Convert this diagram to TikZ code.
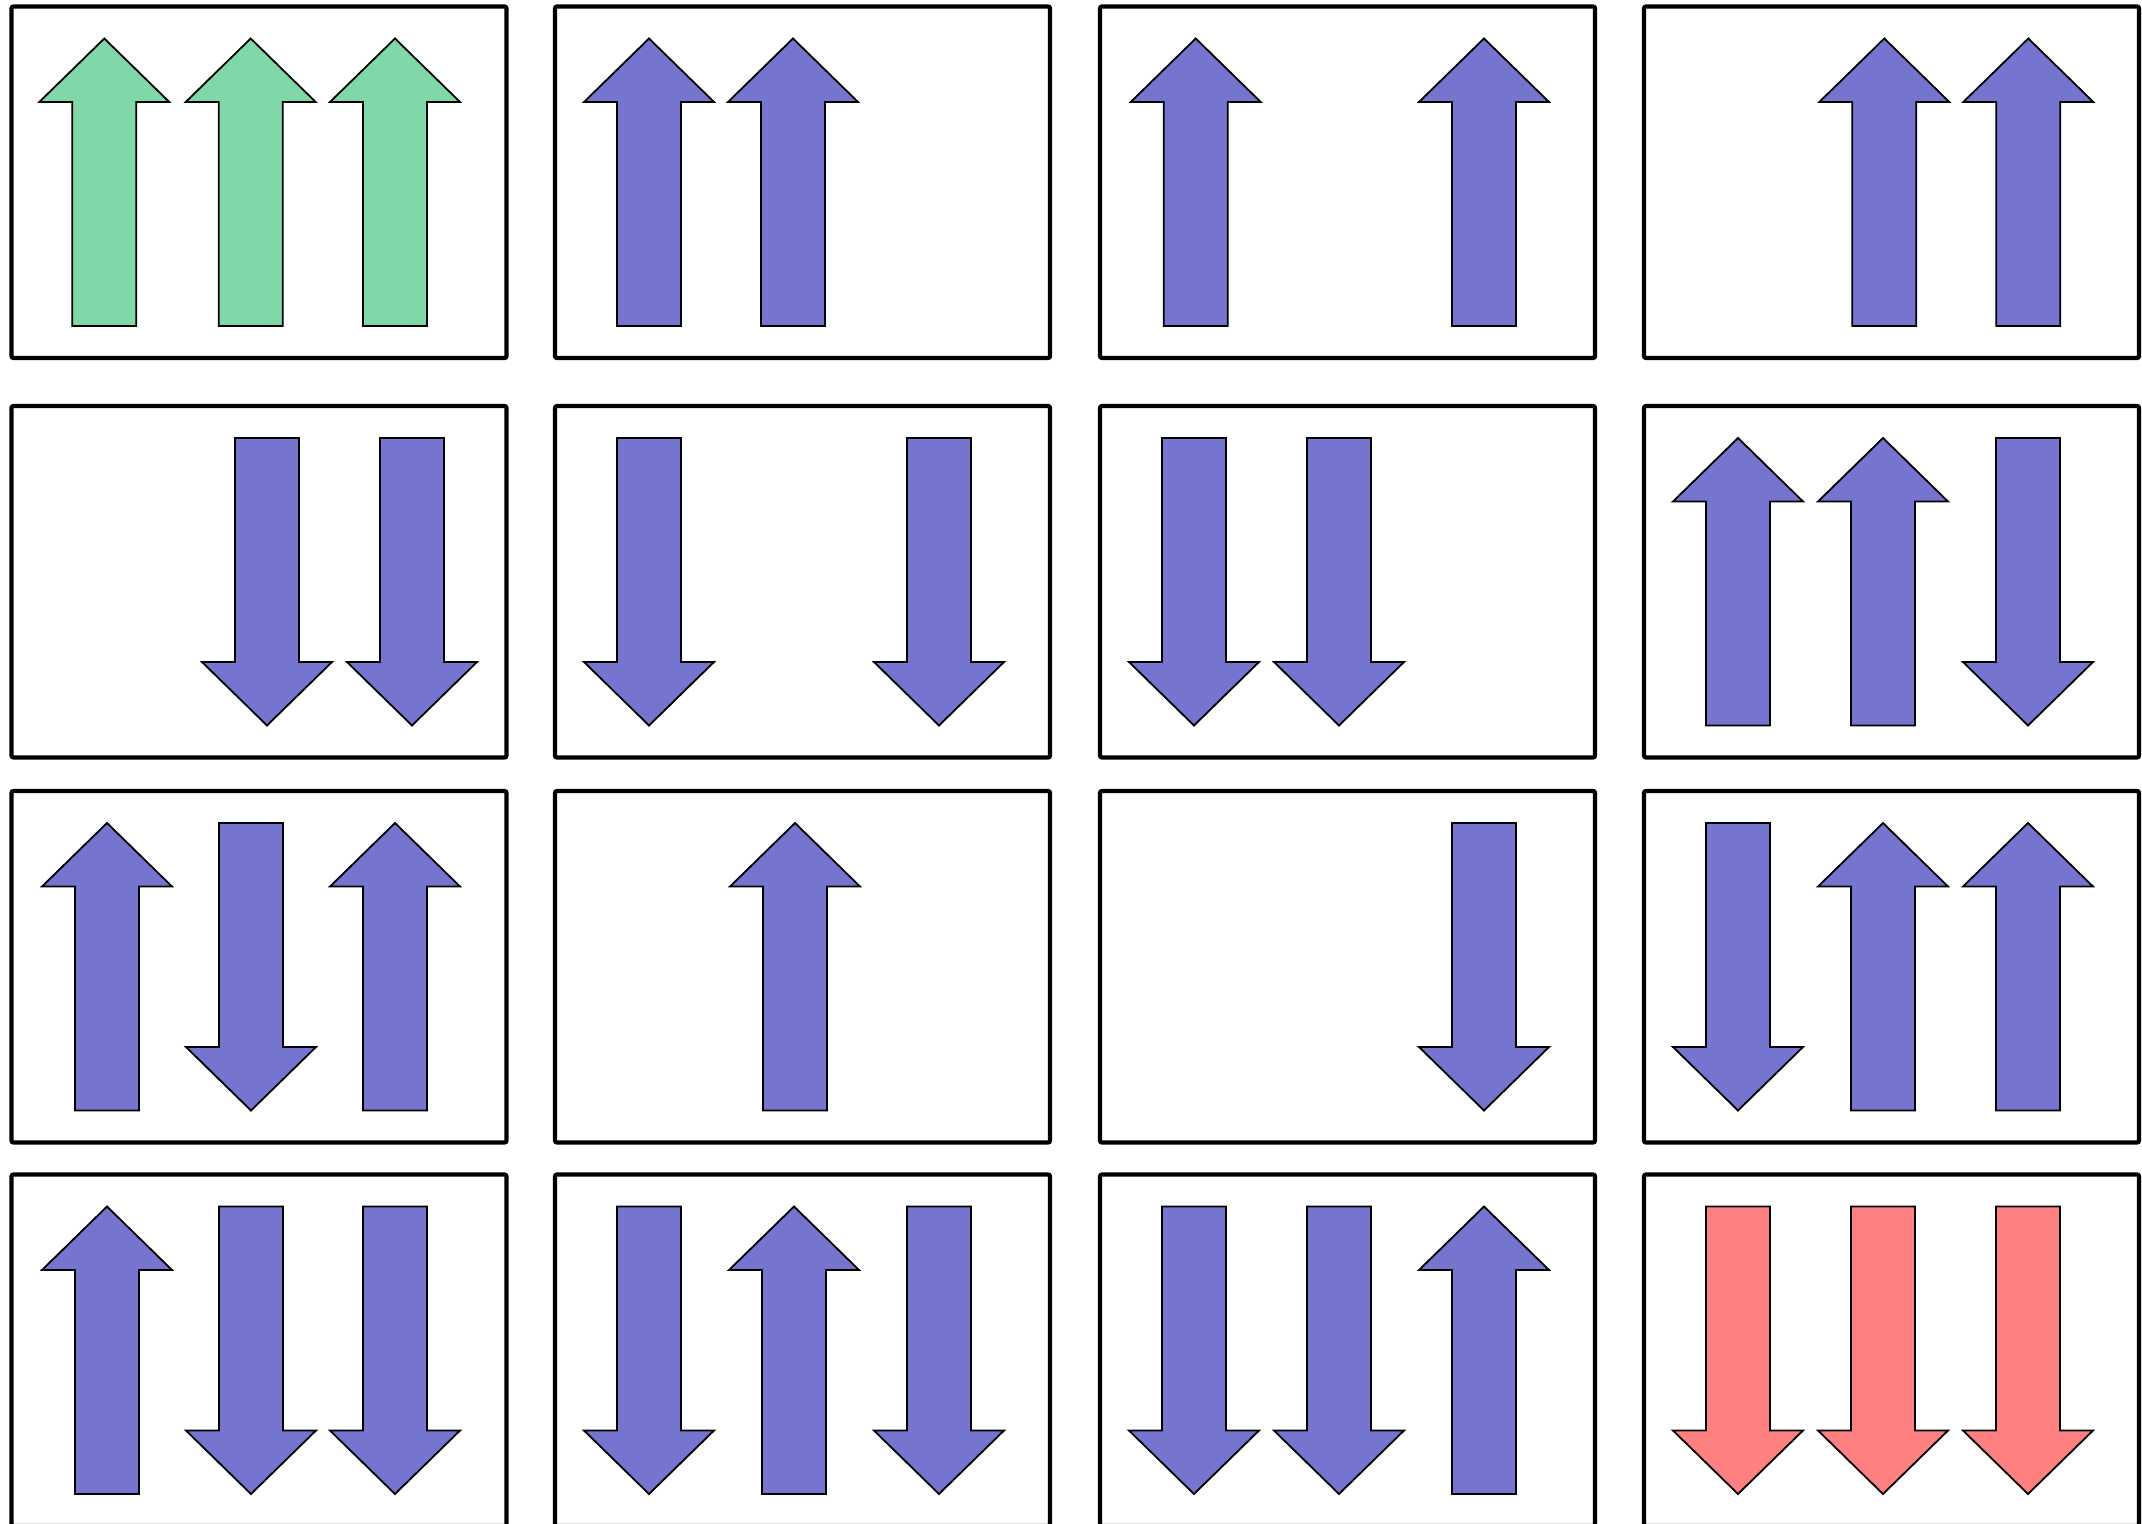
\documentclass[tikz,border=0pt]{standalone}
\definecolor{spingreen}{RGB}{128,216,168}
\definecolor{spinblue}{RGB}{117,117,208}
\definecolor{spinred}{RGB}{255,128,128}
\tikzset{
  cell/.style={draw=black, line width=0.042cm, rounded corners=0.02cm},
  spin/.style={draw=black, line width=0.018cm, fill=#1},
  pics/spinup/.style={code={\path[spin=#1] (0,32) -- (65,95.5) -- (32,95.5) -- (32,319.5) -- (-32,319.5) -- (-32,95.5) -- (-65,95.5) -- cycle;}},
  pics/spindown/.style={code={\path[spin=#1] (-32,32) -- (32,32) -- (32,256) -- (65,256) -- (0,319.5) -- (-65,256) -- (-32,256) -- cycle;}},
}
\begin{document}
\begin{tikzpicture}[x=0.01cm,y=-0.01cm]
\useasboundingbox (0,0) rectangle (2142,1524);
\fill[white] (0,0) rectangle (2142,1524);
\clip (0,0) rectangle (2142,1524);
% cells
\foreach \L in {11.5,555,1100,1644}
  \foreach \T in {6.5,406,791,1174.5}
    \draw[cell] (\L,\T) rectangle ++(495,351.5);
% row 1
\pic at (104.3,6.5) {spinup=spingreen};
\pic at (250.7,6.5) {spinup=spingreen};
\pic at (395,6.5) {spinup=spingreen};
\pic at (649,6.5) {spinup=spinblue};
\pic at (793,6.5) {spinup=spinblue};
\pic at (1195.7,6.5) {spinup=spinblue};
\pic at (1484,6.5) {spinup=spinblue};
\pic at (1884.3,6.5) {spinup=spinblue};
\pic at (2028.3,6.5) {spinup=spinblue};
% row 2
\pic at (267,406) {spindown=spinblue};
\pic at (412,406) {spindown=spinblue};
\pic at (649,406) {spindown=spinblue};
\pic at (939,406) {spindown=spinblue};
\pic at (1194,406) {spindown=spinblue};
\pic at (1339,406) {spindown=spinblue};
\pic at (1738,406) {spinup=spinblue};
\pic at (1883,406) {spinup=spinblue};
\pic at (2028,406) {spindown=spinblue};
% row 3
\pic at (107,791) {spinup=spinblue};
\pic at (251,791) {spindown=spinblue};
\pic at (395,791) {spinup=spinblue};
\pic at (795,791) {spinup=spinblue};
\pic at (1484,791) {spindown=spinblue};
\pic at (1738,791) {spindown=spinblue};
\pic at (1883,791) {spinup=spinblue};
\pic at (2028,791) {spinup=spinblue};
% row 4
\pic at (107,1174.5) {spinup=spinblue};
\pic at (251,1174.5) {spindown=spinblue};
\pic at (395,1174.5) {spindown=spinblue};
\pic at (649,1174.5) {spindown=spinblue};
\pic at (794,1174.5) {spinup=spinblue};
\pic at (939,1174.5) {spindown=spinblue};
\pic at (1194,1174.5) {spindown=spinblue};
\pic at (1339,1174.5) {spindown=spinblue};
\pic at (1484,1174.5) {spinup=spinblue};
\pic at (1738,1174.5) {spindown=spinred};
\pic at (1883,1174.5) {spindown=spinred};
\pic at (2028,1174.5) {spindown=spinred};
\end{tikzpicture}
\end{document}
